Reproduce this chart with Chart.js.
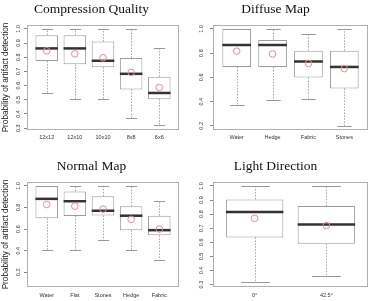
<!DOCTYPE html>
<html>
<head>
<meta charset="utf-8">
<script src="https://cdn.jsdelivr.net/npm/chart.js@4.4.0/dist/chart.umd.min.js"></script>
<style>
  body { margin: 0; background: #fff; width: 373px; height: 301px; overflow: hidden; position: relative; }
  canvas { position: absolute; }
</style>
</head>
<body>
<canvas id="c1" width="184" height="150" style="left:0;top:0"></canvas>
<canvas id="c2" width="190" height="150" style="left:183px;top:0"></canvas>
<canvas id="c3" width="184" height="151" style="left:0;top:150px"></canvas>
<canvas id="c4" width="190" height="151" style="left:183px;top:150px"></canvas>
<script>
// Compression Quality
const compCats = ["12x12", "12x10", "10x10", "8x8", "6x6"];
const compLow = [0.547, 0.505, 0.505, 0.37, 0.325];
const compQ1 = [0.773, 0.75, 0.73, 0.573, 0.504];
const compMed = [0.862, 0.862, 0.775, 0.683, 0.548];
const compQ3 = [0.955, 0.955, 0.91, 0.795, 0.663];
const compHigh = [1.0, 1.0, 1.0, 1.0, 0.863];
const compMean = [0.845, 0.824, 0.796, 0.693, 0.587];
const compTicks = [0.3, 0.4, 0.5, 0.6, 0.7, 0.8, 0.9, 1.0];

// Diffuse Map
const diffCats = ["Water", "Hedge", "Fabric", "Stones"];
const diffLow = [0.375, 0.415, 0.418, 0.198];
const diffQ1 = [0.686, 0.686, 0.6, 0.509];
const diffMed = [0.867, 0.867, 0.731, 0.686];
const diffQ3 = [1.0, 0.909, 0.82, 0.82];
const diffHigh = [1.0, 1.0, 0.955, 1.0];
const diffMean = [0.816, 0.793, 0.715, 0.672];
const diffTicks = [0.2, 0.4, 0.6, 0.8, 1.0];

// Normal Map
const normCats = ["Water", "Flat", "Stones", "Hedge", "Fabric"];
const normLow = [0.405, 0.405, 0.5, 0.405, 0.318];
const normQ1 = [0.70, 0.722, 0.725, 0.59, 0.542];
const normMed = [0.88, 0.858, 0.77, 0.724, 0.59];
const normQ3 = [1.0, 0.948, 0.903, 0.812, 0.723];
const normHigh = [1.0, 1.0, 1.0, 1.0, 0.86];
const normMean = [0.828, 0.812, 0.785, 0.69, 0.60];
const normTicks = [0.2, 0.4, 0.6, 0.8, 1.0];

// Light Direction
const lightCats = ["0°", "42.5°"];
const lightLow = [0.315, 0.36];
const lightQ1 = [0.635, 0.59];
const lightMed = [0.816, 0.726];
const lightQ3 = [0.904, 0.857];
const lightHigh = [1.0, 1.0];
const lightMean = [0.77, 0.72];
const lightTicks = [0.3, 0.4, 0.5, 0.6, 0.7, 0.8, 0.9, 1.0];

const tickFont = { family: "Liberation Sans", size: 5.5 };

function boxExtras(low, q1, med, q3, high) {
  return {
    id: "boxExtras",
    beforeDatasetsDraw(chart) {
      const { ctx, chartArea: a, scales: { y } } = chart;
      ctx.save();
      ctx.strokeStyle = "#b0b0b0";
      ctx.lineWidth = 1;
      ctx.strokeRect(Math.round(a.left) + 0.5, Math.round(a.top) + 0.5,
        Math.round(a.right - a.left) - 1, Math.round(a.bottom - a.top) - 1);
      chart.getDatasetMeta(0).data.forEach((bar, i) => {
        const cx = Math.round(bar.x) + 0.5;
        const half = bar.width / 4;
        ctx.strokeStyle = "#a8a8a8";
        ctx.setLineDash([1.5, 1.5]);
        ctx.beginPath();
        ctx.moveTo(cx, y.getPixelForValue(q3[i]));
        ctx.lineTo(cx, y.getPixelForValue(high[i]));
        ctx.moveTo(cx, y.getPixelForValue(q1[i]));
        ctx.lineTo(cx, y.getPixelForValue(low[i]));
        ctx.stroke();
        ctx.setLineDash([]);
        ctx.strokeStyle = "#999";
        ctx.beginPath();
        const yh = Math.round(y.getPixelForValue(high[i])) + 0.5;
        const yl = Math.round(y.getPixelForValue(low[i])) + 0.5;
        ctx.moveTo(cx - half, yh); ctx.lineTo(cx + half, yh);
        ctx.moveTo(cx - half, yl); ctx.lineTo(cx + half, yl);
        ctx.stroke();
      });
      ctx.restore();
    },
    afterDatasetDraw(chart, args) {
      if (args.index !== 0) return;
      const { ctx, scales: { y } } = chart;
      ctx.save();
      ctx.strokeStyle = "#333";
      ctx.lineWidth = 2.5;
      args.meta.data.forEach((bar, i) => {
        const ym = y.getPixelForValue(med[i]);
        ctx.beginPath();
        ctx.moveTo(bar.x - bar.width / 2, ym);
        ctx.lineTo(bar.x + bar.width / 2, ym);
        ctx.stroke();
      });
      ctx.restore();
    }
  };
}

function makePanel(id, title, cats, low, q1, med, q3, high, mean, yTicks, cfg) {
  const n = cats.length;
  new Chart(document.getElementById(id), {
    type: "bar",
    data: {
      datasets: [
        {
          data: cats.map((c, i) => ({ x: i + 1, y: [q1[i], q3[i]] })),
          backgroundColor: "#fff",
          borderColor: "#9c9c9c",
          borderWidth: 1,
          borderSkipped: false,
          barPercentage: 0.8,
          categoryPercentage: 1,
          order: 1,
        },
        {
          type: "scatter",
          data: cats.map((c, i) => ({ x: i + 1, y: mean[i] })),
          pointStyle: "circle",
          pointRadius: 3.3,
          pointBorderWidth: 1,
          pointBorderColor: "#ef8a96",
          pointBackgroundColor: "rgba(0,0,0,0)",
          order: 0,
        },
      ],
    },
    options: {
      responsive: false,
      animation: false,
      events: [],
      layout: { padding: { left: 0, right: cfg.padRight, top: 0, bottom: 0 } },
      plugins: {
        legend: { display: false },
        tooltip: { enabled: false },
        title: {
          display: true,
          text: title,
          color: "#111",
          font: { family: "Liberation Serif", size: 13.5, weight: "normal" },
          padding: { top: cfg.titleTop, bottom: cfg.titleBottom },
        },
      },
      scales: {
        x: {
          type: "linear",
          offset: false,
          min: 0.5 - 0.04 * n,
          max: n + 0.5 + 0.04 * n,
          afterBuildTicks: (s) => { s.ticks = cats.map((c, i) => ({ value: i + 1 })); },
          afterFit: (s) => { s.height = cfg.xHeight; },
          ticks: {
            callback: (v) => cats[Math.round(v) - 1],
            autoSkip: false, maxRotation: 0, minRotation: 0,
            font: tickFont, color: "#333", padding: cfg.xPad,
          },
          grid: { display: false, drawTicks: false, offset: false },
          border: { display: false },
        },
        y: {
          type: "linear",
          min: cfg.yMin,
          max: cfg.yMax,
          afterBuildTicks: (s) => { s.ticks = yTicks.map((v) => ({ value: v })); },
          afterFit: (s) => { s.width = cfg.yWidth; },
          ticks: {
            callback: (v) => v.toFixed(1),
            minRotation: 90, maxRotation: 90, crossAlign: "center",
            font: tickFont, color: "#333", padding: cfg.yPad,
          },
          grid: { drawOnChartArea: false, drawTicks: true, tickLength: 3, color: "#888" },
          border: { display: false },
          title: {
            display: cfg.yTitle,
            text: "Probability of artifact detection",
            color: "#222",
            font: { family: "Liberation Sans", size: 8.2 },
            padding: { top: 1, bottom: 0 },
          },
        },
      },
    },
    plugins: [boxExtras(low, q1, med, q3, high)],
  });
}

makePanel("c1", "Compression Quality", compCats, compLow, compQ1, compMed, compQ3, compHigh, compMean, compTicks,
  { yMin: 0.287, yMax: 1.027, yWidth: 27, yPad: 2, yTitle: true, padRight: 1, titleTop: 1.5, titleBottom: 7.3, xHeight: 20, xPad: 4 });
makePanel("c2", "Diffuse Map", diffCats, diffLow, diffQ1, diffMed, diffQ3, diffHigh, diffMean, diffTicks,
  { yMin: 0.166, yMax: 1.032, yWidth: 30, yPad: 4.5, yTitle: false, padRight: 5, titleTop: 1.5, titleBottom: 7.3, xHeight: 20, xPad: 4 });
makePanel("c3", "Normal Map", normCats, normLow, normQ1, normMed, normQ3, normHigh, normMean, normTicks,
  { yMin: 0.064, yMax: 1.036, yWidth: 27, yPad: 2, yTitle: true, padRight: 1, titleTop: 8, titleBottom: 7.8, xHeight: 14, xPad: 5 });
makePanel("c4", "Light Direction", lightCats, lightLow, lightQ1, lightMed, lightQ3, lightHigh, lightMean, lightTicks,
  { yMin: 0.283, yMax: 1.028, yWidth: 30, yPad: 4.5, yTitle: false, padRight: 5, titleTop: 8, titleBottom: 7.8, xHeight: 14, xPad: 5 });
</script>
</body>
</html>
